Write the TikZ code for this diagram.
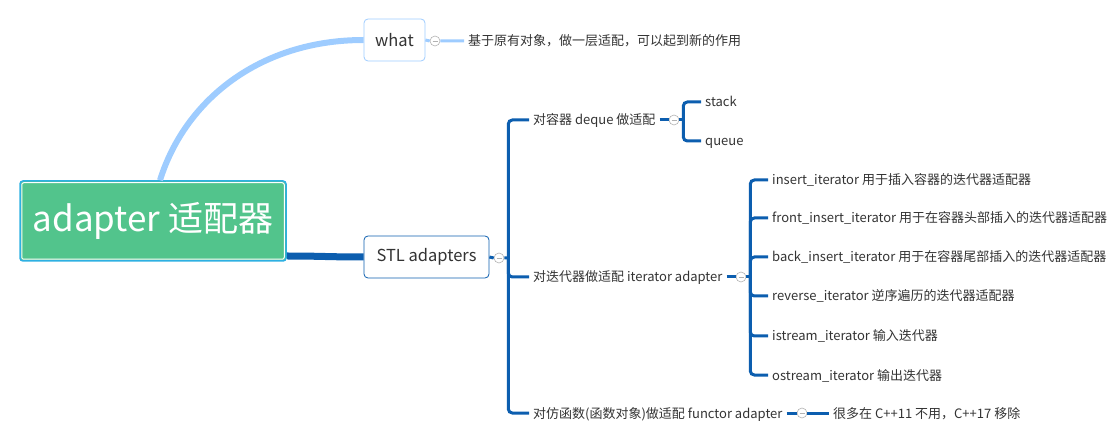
\documentclass[tikz,border=0pt]{standalone}
\usepackage{fontspec}
\setmainfont{Noto Sans CJK SC}
\definecolor{rootgreen}{RGB}{82,196,140}
\definecolor{rootedge}{RGB}{46,176,226}
\definecolor{lightline}{RGB}{158,204,255}
\definecolor{darkline}{RGB}{12,94,175}
\definecolor{txt}{RGB}{51,51,51}
\begin{document}
\begin{tikzpicture}[x=1pt,y=-1pt,
topic/.style={draw, rounded corners=4pt, line width=0.8pt, fill=white, text=txt, font=\fontsize{16.5}{18}\selectfont, minimum height=42pt, inner sep=0pt},
leaf/.style={anchor=west, inner sep=4pt, text height=12pt, text depth=2pt, text=txt, font=\fontsize{13}{15}\selectfont},
fold/.style={circle, draw=gray!60, fill=white, minimum size=10pt, inner sep=0pt, line width=0.6pt, path picture={\draw[gray!60, line width=0.6pt] ([xshift=2.5pt]path picture bounding box.west) -- ([xshift=-2.5pt]path picture bounding box.east);}},
bar/.style={darkline, line width=3pt, rounded corners=4pt}]
\useasboundingbox (0,0) rectangle (1113,435);

\node[fill=rootgreen, draw=rootedge, line width=1.5pt, rounded corners=3pt, minimum width=266pt, minimum height=80pt, text=white, font=\fontsize{35}{38}\selectfont] (root) at (153,221) {adapter 适配器};
\draw[white, line width=1pt, rounded corners=2pt] ([shift={(2.5pt,-2.5pt)}]root.north west) rectangle ([shift={(-2.5pt,2.5pt)}]root.south east);

\node[topic, draw=lightline, minimum width=61pt] (what) at (394.5,40) {what};
\node[topic, draw=darkline, minimum width=125pt] (stl) at (426.5,257) {STL adapters};
\draw[lightline, line width=6pt] ([xshift=7pt]root.north) .. controls (185,100) and (260,40) .. (what.west);
\draw[darkline, line width=7pt] ([yshift=-35pt]root.east) .. controls +(35,0) and +(-35,0) .. (stl.west);

\node[fold] (whatc) at (435,41) {};
\node[leaf] (whatnote) at (464,41) {基于原有对象，做一层适配，可以起到新的作用};
\draw[lightline, line width=3pt] (what.east) -- (whatc.west) (whatc.east) -- (whatnote.west);

\node[fold] (stlc) at (499,258) {};
\coordinate (stlj) at ([xshift=4pt]stlc.east);
\node[leaf] (deque) at (529,120) {对容器 deque 做适配};
\node[leaf] (iter) at (529,277) {对迭代器做适配 iterator adapter};
\node[leaf] (func) at (529,413) {对仿函数(函数对象)做适配 functor adapter};
\draw[bar] (stl.east) -- (stlc.west) (stlc.east) -- (stlj);
\foreach \k in {deque,iter,func} \draw[bar] (stlj) |- (\k.west);

\node[fold] (dequec) at (674,120) {};
\coordinate (dequej) at ([xshift=4pt]dequec.east);
\node[leaf] (stack) at (701,102) {stack};
\node[leaf] (queue) at (701,141) {queue};
\draw[bar] (deque.east) -- (dequec.west) (dequec.east) -- (dequej);
\foreach \k in {stack,queue} \draw[bar] (dequej) |- (\k.west);

\node[fold] (iterc) at (741,277) {};
\coordinate (iterj) at ([xshift=4pt]iterc.east);
\draw[bar] (iter.east) -- (iterc.west) (iterc.east) -- (iterj);
\foreach \y/\n/\t in {180/ins/insert\_iterator 用于插入容器的迭代器适配器,218/front/front\_insert\_iterator 用于在容器头部插入的迭代器适配器,257/back/back\_insert\_iterator 用于在容器尾部插入的迭代器适配器,296/rev/reverse\_iterator 逆序遍历的迭代器适配器,336/istr/istream\_iterator 输入迭代器,375/ostr/ostream\_iterator 输出迭代器}
{\node[leaf] (\n) at (768,\y) {\t};
\draw[bar] (iterj) |- (\n.west);}

\node[fold] (funcc) at (802,413) {};
\node[leaf] (drop) at (829,413) {很多在 C++11 不用，C++17 移除};
\draw[bar] (func.east) -- (funcc.west) (funcc.east) -- (drop.west);

\end{tikzpicture}
\end{document}
